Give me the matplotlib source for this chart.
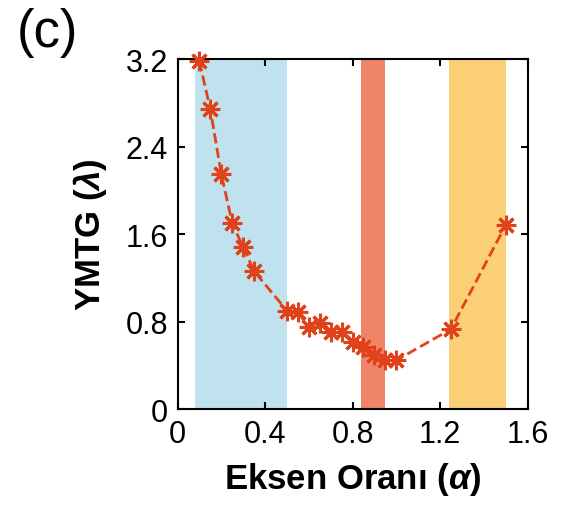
import numpy as np
import matplotlib.pyplot as plt

plt.rcParams['font.family'] = ['Liberation Sans', 'DejaVu Sans']
plt.rcParams['mathtext.fontset'] = 'custom'
plt.rcParams['mathtext.rm'] = 'Liberation Sans:bold'
plt.rcParams['mathtext.it'] = 'Liberation Sans:bold:italic'

# data
aspect = [0.10, 0.15, 0.20, 0.25, 0.30, 0.35, 0.50, 0.55, 0.60, 0.65,
          0.70, 0.75, 0.80, 0.85, 0.90, 0.95, 1.00, 1.25, 1.50]
ymtg = [3.18, 2.74, 2.15, 1.70, 1.48, 1.26, 0.90, 0.885, 0.75, 0.79,
        0.70, 0.70, 0.61, 0.565, 0.49, 0.445, 0.445, 0.73, 1.68]

bands = [(0.08, 0.50), (0.84, 0.95), (1.24, 1.50)]
band_colors = ['#bfe2ee', '#ef8468', '#fbcf76']

xticks = [0, 0.4, 0.8, 1.2, 1.6]
yticks = [0, 0.8, 1.6, 2.4, 3.2]

fig = plt.figure(figsize=(5.61, 5.06), dpi=100)
ax = fig.add_axes([0.3164, 0.1897, 0.6239, 0.6917])

for (a, b), c in zip(bands, band_colors):
    ax.axvspan(a, b, color=c, lw=0, zorder=0)

ax.plot(aspect, ymtg, ls='--', color='#e0431c', lw=2,
        marker=(8, 2, 0), ms=14, mew=2.2, clip_on=False, zorder=3)

ax.set_xlim(0, 1.6)
ax.set_ylim(0, 3.2)
ax.set_xticks(xticks)
ax.set_xticklabels(['0', '0.4', '0.8', '1.2', '1.6'])
ax.set_yticks(yticks)
ax.set_yticklabels(['0', '0.8', '1.6', '2.4', '3.2'])
ax.tick_params(direction='in', top=True, right=True, length=5, width=1.5,
               labelsize=22, pad=7)
for s in ax.spines.values():
    s.set_linewidth(1.5)

ax.set_xlabel(r'Eksen Oranı ($\alpha$)', fontsize=25, fontweight='bold', labelpad=8)
ax.set_ylabel(r'YMTG ($\lambda$)', fontsize=25, fontweight='bold', labelpad=12)

fig.text(0.085, 0.935, '(c)', fontsize=38, va='center', ha='center')

fig.savefig('out.png', dpi=100)
